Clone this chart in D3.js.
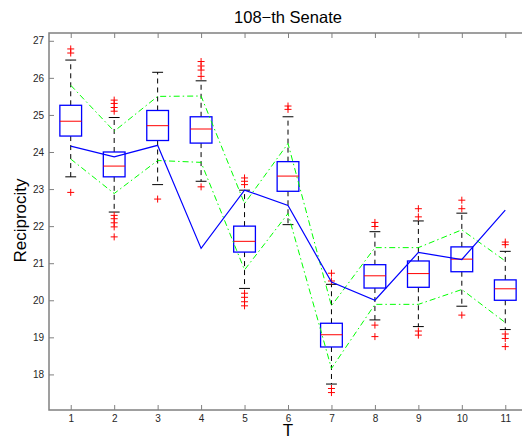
<!DOCTYPE html>
<html>
<head>
<meta charset="utf-8">
<script src="https://d3js.org/d3.v7.min.js"></script>
<style>
  body { margin: 0; background: #fff; }
  text { font-family: "Liberation Sans", Arial, sans-serif; }
</style>
</head>
<body>
<div id="chartArea"></div>
<script>
// step T
var steps = [1, 2, 3, 4, 5, 6, 7, 8, 9, 10, 11];
var yTicks = [18, 19, 20, 21, 22, 23, 24, 25, 26, 27];

// boxplot statistics per step
var q3 = [25.26, 24.00, 25.12, 24.95, 22.00, 23.74, 19.38, 20.96, 21.06, 21.44, 20.55];
var median = [24.83, 23.62, 24.71, 24.62, 21.59, 23.35, 19.07, 20.66, 20.72, 21.11, 20.31];
var q1 = [24.43, 23.33, 24.31, 24.24, 21.30, 22.94, 18.74, 20.33, 20.35, 20.77, 20.00];
var whiskerHigh = [26.48, 24.93, 26.15, 25.92, 22.97, 24.95, 20.43, 21.85, 22.14, 22.35, 21.32];
var whiskerLow = [23.33, 22.38, 23.12, 23.21, 20.32, 22.04, 17.74, 19.47, 19.29, 19.84, 19.21];
var outliers = [
    [26.78, 26.67, 22.91],
    [25.40, 25.31, 25.20, 25.10, 22.29, 22.20, 22.09, 21.98, 21.71],
    [22.73],
    [26.44, 26.32, 26.21, 26.04, 23.06],
    [23.30, 23.21, 23.12, 20.19, 20.08, 19.96, 19.85],
    [25.24, 25.15],
    [20.73, 20.52, 17.62, 17.51],
    [22.10, 21.99, 19.33, 19.02],
    [22.47, 22.25, 19.17, 19.06],
    [22.70, 22.47, 19.60],
    [21.57, 21.50, 19.09, 18.97, 18.75]
];

// observed reciprocity (blue) and band (green)
var observed = [24.16, 23.87, 24.18, 21.40, 22.97, 22.56, 20.49, 20.00, 21.29, 21.10, 22.43];
var bandUpper = [25.80, 24.56, 25.50, 25.51, 22.61, 24.23, 19.85, 21.42, 21.42, 21.90, 21.06];
var bandLower = [23.81, 22.88, 23.77, 23.72, 20.82, 22.34, 18.16, 19.89, 19.89, 20.29, 19.40];

var svg = d3.select('#chartArea').append("svg")
    .attr("width", 522).attr("height", 438);

var margin = {left: 49, right: 527, top: 33, bottom: 410};

var x = d3.scaleLinear().domain([0.5, 11.5]).range([margin.left, margin.right]),
    y = d3.scaleLinear().domain([17.04, 27.21]).range([margin.bottom, margin.top]);

var axisColor = "#808080";

// axes (ticks point inward like matlab)
function styleAxis(g) {
    g.select(".domain").remove();
    g.selectAll(".tick line").attr("stroke", axisColor);
    g.selectAll(".tick text").attr("fill", "#262626").style("font-size", "10px");
}

svg.append("g")
    .attr("transform", "translate(0," + margin.bottom + ")")
    .call(d3.axisBottom(x).tickValues(steps).tickFormat(d3.format("d"))
        .tickSizeInner(-5).tickSizeOuter(0).tickPadding(5))
    .call(styleAxis);

svg.append("g")
    .attr("transform", "translate(0," + margin.top + ")")
    .call(d3.axisTop(x).tickValues(steps).tickFormat("")
        .tickSizeInner(-5).tickSizeOuter(0))
    .call(styleAxis);

svg.append("g")
    .attr("transform", "translate(" + margin.left + ",0)")
    .call(d3.axisLeft(y).tickValues(yTicks).tickFormat(d3.format("d"))
        .tickSizeInner(-5).tickSizeOuter(0).tickPadding(5))
    .call(styleAxis);

svg.append("g")
    .attr("transform", "translate(" + margin.right + ",0)")
    .call(d3.axisRight(y).tickValues(yTicks).tickFormat("")
        .tickSizeInner(-5).tickSizeOuter(0))
    .call(styleAxis);

svg.append("rect")
    .attr("x", margin.left).attr("y", margin.top)
    .attr("width", margin.right - margin.left).attr("height", margin.bottom - margin.top)
    .attr("fill", "none")
    .attr("stroke", axisColor)
    .attr("stroke-width", 1.5);

// boxplots
var boxW = x(1.25) - x(1);
var capW = x(1.125) - x(1);

var boxes = svg.selectAll(".box")
    .data(steps).enter().append("g")
    .attr("class", "box");

boxes.append("line")
    .attr("x1", function(d) { return x(d); })
    .attr("x2", function(d) { return x(d); })
    .attr("y1", function(d, i) { return y(q3[i]); })
    .attr("y2", function(d, i) { return y(whiskerHigh[i]); })
    .attr("stroke", "#000").attr("stroke-dasharray", "5,4");

boxes.append("line")
    .attr("x1", function(d) { return x(d); })
    .attr("x2", function(d) { return x(d); })
    .attr("y1", function(d, i) { return y(q1[i]); })
    .attr("y2", function(d, i) { return y(whiskerLow[i]); })
    .attr("stroke", "#000").attr("stroke-dasharray", "5,4");

boxes.append("line")
    .attr("x1", function(d) { return x(d) - capW; })
    .attr("x2", function(d) { return x(d) + capW; })
    .attr("y1", function(d, i) { return y(whiskerHigh[i]); })
    .attr("y2", function(d, i) { return y(whiskerHigh[i]); })
    .attr("stroke", "#000");

boxes.append("line")
    .attr("x1", function(d) { return x(d) - capW; })
    .attr("x2", function(d) { return x(d) + capW; })
    .attr("y1", function(d, i) { return y(whiskerLow[i]); })
    .attr("y2", function(d, i) { return y(whiskerLow[i]); })
    .attr("stroke", "#000");

boxes.append("rect")
    .attr("x", function(d) { return x(d) - boxW; })
    .attr("y", function(d, i) { return y(q3[i]); })
    .attr("width", boxW * 2)
    .attr("height", function(d, i) { return y(q1[i]) - y(q3[i]); })
    .attr("fill", "none")
    .attr("stroke", "#0000ff")
    .attr("stroke-width", 1.3);

boxes.append("line")
    .attr("x1", function(d) { return x(d) - boxW; })
    .attr("x2", function(d) { return x(d) + boxW; })
    .attr("y1", function(d, i) { return y(median[i]); })
    .attr("y2", function(d, i) { return y(median[i]); })
    .attr("stroke", "#ff0000");

// outliers as red +
boxes.selectAll(".out")
    .data(function(d, i) { return outliers[i].map(function(v) { return {t: d, v: v}; }); })
    .enter().append("path")
    .attr("class", "out")
    .attr("transform", function(d) { return "translate(" + x(d.t) + "," + y(d.v) + ")"; })
    .attr("d", "M-3.5,0H3.5M0,-3.5V3.5")
    .attr("stroke", "#ff0000")
    .attr("fill", "none");

// lines
var line = d3.line()
    .x(function(d, i) { return x(steps[i]); })
    .y(function(d) { return y(d); });

[bandUpper, bandLower].forEach(function(s) {
    svg.append("path")
        .attr("d", line(s))
        .attr("fill", "none")
        .attr("stroke", "#00ff00")
        .attr("stroke-dasharray", "6,3,1.5,3");
});

svg.append("path")
    .attr("d", line(observed))
    .attr("fill", "none")
    .attr("stroke", "#0000ff")
    .attr("stroke-width", 1.2);

// titles
svg.append("text")
    .attr("x", (margin.left + margin.right) / 2).attr("y", 23)
    .attr("text-anchor", "middle")
    .style("font-size", "16.5px")
    .text("108\u2212th Senate");

svg.append("text")
    .attr("transform", "translate(26,220.5) rotate(-90)")
    .attr("text-anchor", "middle")
    .style("font-size", "17px")
    .text("Reciprocity");

svg.append("text")
    .attr("x", x(6)).attr("y", 436)
    .attr("text-anchor", "middle")
    .style("font-size", "17px")
    .text("T");
</script>
</body>
</html>
